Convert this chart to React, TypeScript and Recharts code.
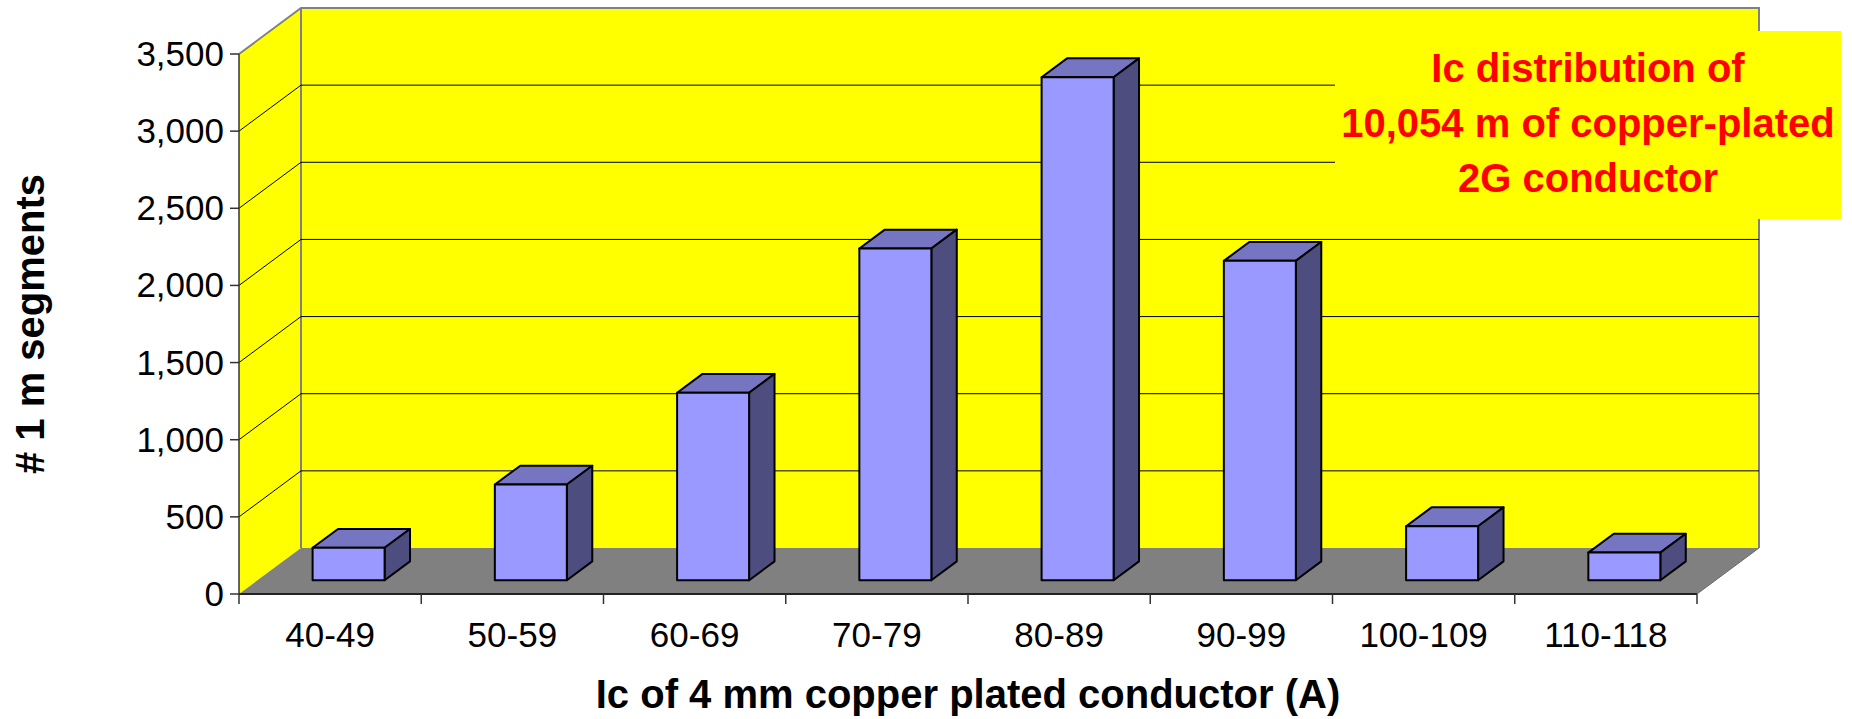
import React from "react";
import { Bar, BarChart, CartesianGrid, Label, ReferenceArea, XAxis, YAxis } from "recharts";

const ranges = ["40-49", "50-59", "60-69", "70-79", "80-89", "90-99", "100-109", "110-118"];
const segments = [210, 620, 1215, 2150, 3260, 2070, 350, 179];
const countTicks = [0, 500, 1000, 1500, 2000, 2500, 3000, 3500];
const noteLines = ["Ic distribution of", "10,054 m of copper-plated", "2G conductor"];

const data = ranges.map((range, i) => ({ range, segments: segments[i] }));

const FONT = '"Liberation Sans", Arial, Helvetica, sans-serif';
// depth of the 3D box (back wall offset)
const DX = 62;
const DY = 46;

// yellow side/back walls + grey floor, drawn from the plot rectangle
const Walls = (props: any) => {
    const { x, y, width, height } = props;
    const b = y + height;
    const r = x + width;
    return (
        <g>
            <polygon points={`${x},${b} ${x},${y} ${x + DX},${y - DY} ${x + DX},${b - DY}`} fill="#FFFF00" />
            <rect x={x + DX} y={y - DY} width={width} height={height} fill="#FFFF00" />
            <polygon points={`${x},${b} ${r},${b} ${r + DX},${b - DY} ${x + DX},${b - DY}`} fill="#808080" />
            <line x1={r} y1={b} x2={r + DX} y2={b - DY} stroke="#6a6a6a" strokeWidth={1} />
            <polyline
                points={`${x},${y} ${x + DX},${y - DY} ${r + DX},${y - DY} ${r + DX},${b - DY}`}
                fill="none"
                stroke="#808080"
                strokeWidth={2}
            />
            <line x1={x + DX} y1={y - DY} x2={x + DX} y2={b - DY} stroke="#808080" strokeWidth={2} />
        </g>
    );
};

// gridline goes up the side wall then along the back wall
const BackGridLine = (props: any) => {
    const { x1, y1, x2, y, height } = props;
    if (Math.abs(y1 - y) < 1 || Math.abs(y1 - (y + height)) < 1) return <g />;
    return (
        <g>
            <line x1={x1} y1={y1} x2={x1 + DX} y2={y1 - DY} stroke="#000" strokeWidth={1} />
            <line x1={x1 + DX} y1={y1 - DY} x2={x2 + DX} y2={y1 - DY} stroke="#000" strokeWidth={1} />
        </g>
    );
};

const Bar3D = (props: any) => {
    const { x, y, width, height } = props;
    if (!width || height == null) return <g />;
    const fx = x + DX * 0.3;
    const fy = y - DY * 0.3;
    const fb = fy + height;
    const dx = DX * 0.41;
    const dy = DY * 0.41;
    const r = fx + width;
    return (
        <g stroke="#000" strokeWidth={2} strokeLinejoin="round">
            <polygon points={`${fx},${fy} ${fx + dx},${fy - dy} ${r + dx},${fy - dy} ${r},${fy}`} fill="#7575C2" />
            <polygon points={`${r},${fy} ${r + dx},${fy - dy} ${r + dx},${fb - dy} ${r},${fb}`} fill="#4D4D80" />
            <rect x={fx} y={fy} width={width} height={height} fill="#9999FF" />
        </g>
    );
};

const XTick = (props: any) => {
    const { x, y, payload, index, visibleTicksCount, width } = props;
    const half = payload.offset ?? width / visibleTicksCount / 2;
    const axisY = y - 10;
    return (
        <g>
            <line x1={x - half} y1={axisY} x2={x - half} y2={y} stroke="#333" strokeWidth={1.5} />
            {index === visibleTicksCount - 1 && (
                <line x1={x + half} y1={axisY} x2={x + half} y2={y} stroke="#333" strokeWidth={1.5} />
            )}
            <text x={x} y={y + 43} textAnchor="middle" fontSize={35} fontFamily={FONT} fill="#000">
                {payload.value}
            </text>
        </g>
    );
};

const YTick = (props: any) => {
    const { x, y, payload } = props;
    return (
        <text x={x} y={y} dy={12} textAnchor="end" fontSize={35} fontFamily={FONT} fill="#000">
            {Number(payload.value).toLocaleString("en-US")}
        </text>
    );
};

const XTitle = (props: any) => {
    const vb = props.viewBox;
    return (
        <text x={vb.x + vb.width / 2} y={vb.y + 114} textAnchor="middle" fontSize={40} fontWeight="bold" fontFamily={FONT} fill="#000">
            Ic of 4 mm copper plated conductor (A)
        </text>
    );
};

const YTitle = (props: any) => {
    const vb = props.viewBox;
    const cx = vb.x + 44;
    const cy = vb.y + vb.height / 2;
    return (
        <text
            x={cx}
            y={cy}
            transform={`rotate(-90, ${cx}, ${cy})`}
            textAnchor="middle"
            fontSize={40}
            fontWeight="bold"
            fontFamily={FONT}
            fill="#000"
        >
            # 1 m segments
        </text>
    );
};

export default function App() {
    return (
        <div style={{ position: "absolute", left: 0, top: 0, width: 1852, height: 719, background: "#fff" }}>
            <BarChart width={1852} height={719} data={data} margin={{ top: 54, right: 155, bottom: 0, left: 0 }}>
                <ReferenceArea y1={0} y2={3500} shape={Walls} ifOverflow="visible" zIndex={-200} />
                <CartesianGrid vertical={false} horizontal={BackGridLine} />
                <XAxis
                    dataKey="range"
                    height={125}
                    interval={0}
                    tickLine={false}
                    tickSize={10}
                    tickMargin={0}
                    axisLine={{ stroke: "#222", strokeWidth: 2 }}
                    tick={XTick}
                >
                    <Label content={XTitle} />
                </XAxis>
                <YAxis
                    width={239}
                    domain={[0, 3500]}
                    ticks={countTicks}
                    interval={0}
                    tickSize={9}
                    tickMargin={6}
                    axisLine={{ stroke: "#333", strokeWidth: 1.5 }}
                    tickLine={{ stroke: "#333", strokeWidth: 1.5 }}
                    tick={YTick}
                >
                    <Label content={YTitle} />
                </YAxis>
                <Bar dataKey="segments" barSize={72} shape={Bar3D} isAnimationActive={false} />
            </BarChart>
            <div
                style={{
                    position: "absolute",
                    left: 1335,
                    top: 31,
                    width: 506,
                    height: 188,
                    boxSizing: "border-box",
                    paddingTop: 10,
                    background: "#FFFF00",
                    color: "#FF0000",
                    fontFamily: FONT,
                    fontWeight: "bold",
                    fontSize: 40,
                    lineHeight: "55px",
                    textAlign: "center",
                }}
            >
                {noteLines.map((line) => (
                    <div key={line}>{line}</div>
                ))}
            </div>
        </div>
    );
}
